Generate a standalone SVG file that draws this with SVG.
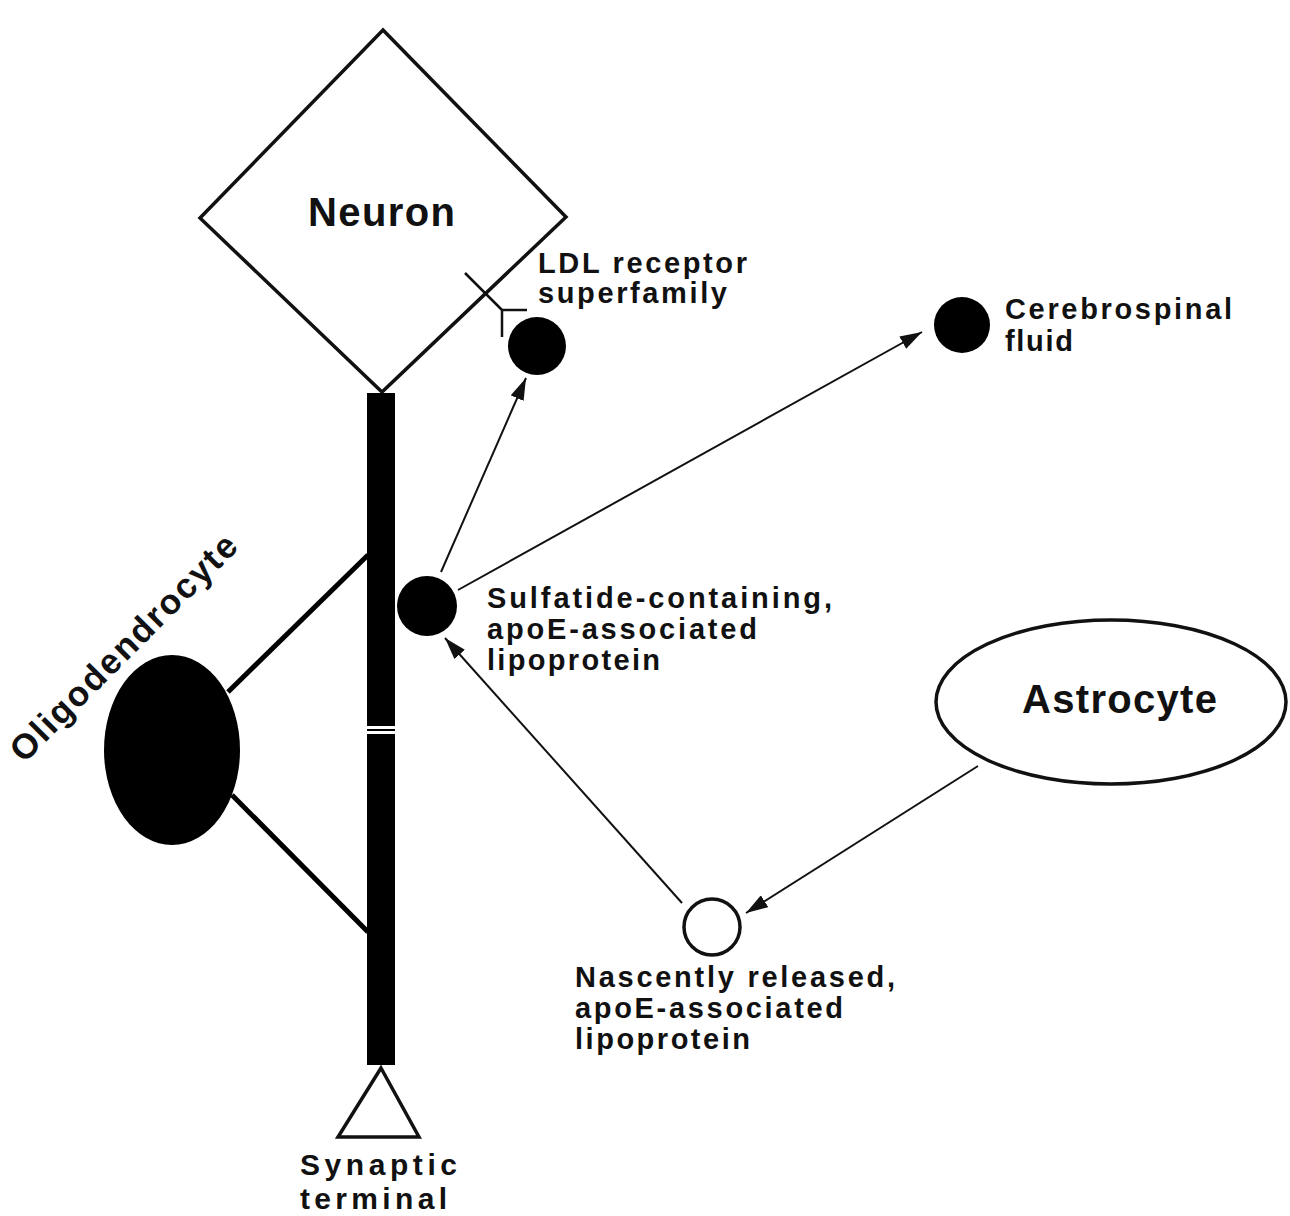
<svg xmlns="http://www.w3.org/2000/svg" width="1290" height="1216" viewBox="0 0 1290 1216">
<style>
text{font-family:"Liberation Sans",Arial,sans-serif;font-weight:bold;fill:#111}
.big{font-size:40px}
.sm{font-size:29px}
.outline{fill:#fff;stroke:#111;stroke-width:3.5}
.solid{fill:#000}
.conn{stroke:#111;stroke-width:2;fill:none}
</style>
<defs>
<marker id="ah" viewBox="0 0 22 14" refX="22" refY="7" markerWidth="22" markerHeight="14" markerUnits="userSpaceOnUse" orient="auto">
<path d="M0,0 L22,7 L0,14 Z" fill="#111"/>
</marker>
</defs>
<rect width="1290" height="1216" fill="#fff"/>

<g id="neuron">
<polygon class="outline" points="383,30 566,217 382,392 200,218" stroke-width="3"/>
<text class="big" x="308" y="226" textLength="147" lengthAdjust="spacing">Neuron</text>
</g>

<g id="receptor">
<path d="M465,273 L502,310 M502,310 L527,310 M502,310 L502,337" stroke="#111" stroke-width="2.5" fill="none"/>
</g>

<g id="axon">
<rect x="367" y="393" width="28" height="672" fill="#000"/>
<rect x="367" y="726" width="28" height="3" fill="#fff"/>
<rect x="367" y="731" width="28" height="3" fill="#fff"/>
</g>

<g id="synaptic-terminal">
<polygon class="outline" points="381,1068 419,1137 338,1137" stroke-width="3"/>
<text style="font-size:30px" x="300" y="1175" textLength="157" lengthAdjust="spacing">Synaptic</text>
<text style="font-size:30px" x="300" y="1209" textLength="147" lengthAdjust="spacing">terminal</text>
</g>

<g id="oligodendrocyte">
<line x1="228" y1="692" x2="368" y2="555" stroke="#000" stroke-width="5"/>
<line x1="232" y1="795" x2="368" y2="932" stroke="#000" stroke-width="5"/>
<ellipse class="solid" cx="172" cy="750" rx="68" ry="95"/>
<text style="font-size:35px" transform="translate(24 764) rotate(-45)" textLength="305" lengthAdjust="spacing">Oligodendrocyte</text>
</g>

<g id="ldl-lipoprotein">
<circle class="solid" cx="537" cy="346" r="29"/>
<text class="sm" x="538" y="273" textLength="209" lengthAdjust="spacing">LDL receptor</text>
<text class="sm" x="538" y="303" textLength="189" lengthAdjust="spacing">superfamily</text>
</g>

<g id="csf">
<circle class="solid" cx="962" cy="325" r="28"/>
<text class="sm" x="1005" y="319" textLength="227" lengthAdjust="spacing">Cerebrospinal</text>
<text class="sm" x="1005" y="351" textLength="68" lengthAdjust="spacing">fluid</text>
</g>

<g id="sulfatide-lipoprotein">
<circle class="solid" cx="427" cy="606" r="30"/>
<text class="sm" x="487" y="608" textLength="345" lengthAdjust="spacing">Sulfatide-containing,</text>
<text class="sm" x="487" y="639" textLength="270" lengthAdjust="spacing">apoE-associated</text>
<text class="sm" x="487" y="670" textLength="173" lengthAdjust="spacing">lipoprotein</text>
</g>

<g id="astrocyte">
<ellipse class="outline" cx="1111" cy="702" rx="175" ry="82"/>
<text class="big" x="1022" y="713" textLength="195" lengthAdjust="spacing">Astrocyte</text>
</g>

<g id="nascent-lipoprotein">
<circle class="outline" cx="712" cy="927" r="28"/>
<text class="sm" x="575" y="987" textLength="320" lengthAdjust="spacing">Nascently released,</text>
<text class="sm" x="575" y="1018" textLength="268" lengthAdjust="spacing">apoE-associated</text>
<text class="sm" x="575" y="1049" textLength="175" lengthAdjust="spacing">lipoprotein</text>
</g>

<g id="connectors">
<line class="conn" x1="441" y1="572" x2="526" y2="378" marker-end="url(#ah)"/>
<line class="conn" x1="458" y1="590" x2="922" y2="332" marker-end="url(#ah)"/>
<line class="conn" x1="682" y1="903" x2="445" y2="638" marker-end="url(#ah)"/>
<line class="conn" x1="978" y1="766" x2="746" y2="913" marker-end="url(#ah)"/>
</g>
</svg>
